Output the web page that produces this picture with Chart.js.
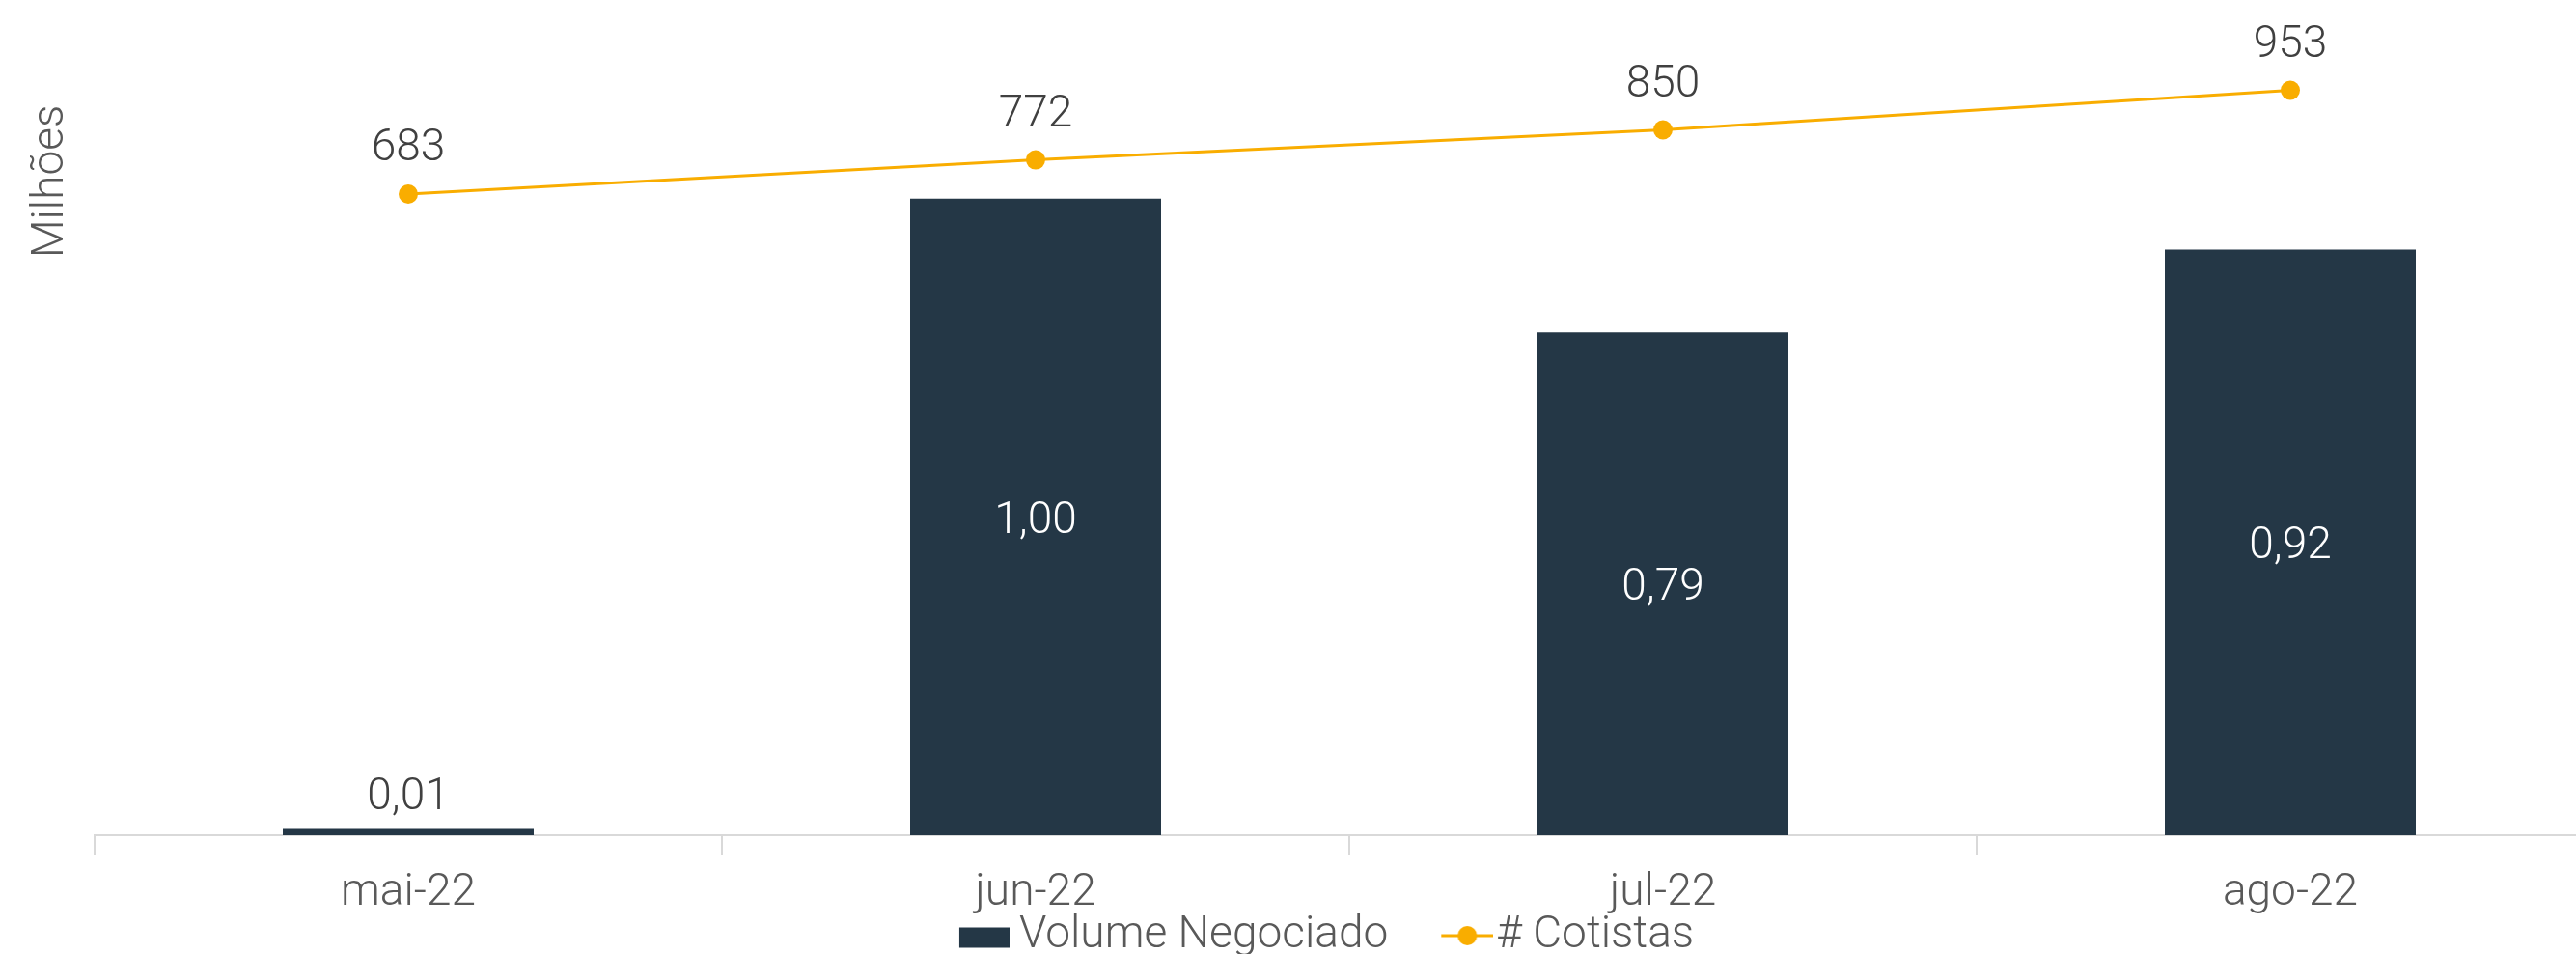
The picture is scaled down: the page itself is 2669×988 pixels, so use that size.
<!DOCTYPE html>
<html>
<head>
<meta charset="utf-8">
<script src="https://cdn.jsdelivr.net/npm/chart.js@4.4.0/dist/chart.umd.min.js"></script>
<style>
    html, body { margin: 0; padding: 0; background: #fff; overflow: hidden; }
    #wrap { position: relative; width: 2720px; height: 1002px; }
</style>
</head>
<body>
<div id="wrap"><canvas id="grafico"></canvas></div>
<script>
// dados do gráfico
var meses = ['mai-22', 'jun-22', 'jul-22', 'ago-22'];
var volume = [0.01, 1.00, 0.79, 0.92];      // Volume Negociado (milhões)
var cotistas = [683, 772, 850, 953];        // # Cotistas

var corBarra = '#243746';
var corLinha = '#F9AD00';
var fonte = 'Roboto';
var larguraIcone = 89;   // pointStyleWidth da legenda

// ícones da legenda (parte visível encostada à direita, perto do texto)
function iconeBarra() {
    var c = document.createElement('canvas');
    c.width = larguraIcone + 26; c.height = 43;
    var g = c.getContext('2d');
    g.fillStyle = corBarra;
    g.fillRect(c.width - 52, 13, 52, 21);
    return c;
}
function iconeLinha() {
    var c = document.createElement('canvas');
    c.width = larguraIcone + 40; c.height = 40;
    var g = c.getContext('2d');
    var x0 = c.width - 54;
    g.strokeStyle = corLinha;
    g.lineWidth = 3;
    g.beginPath(); g.moveTo(x0, 20); g.lineTo(x0 + 54, 20); g.stroke();
    g.fillStyle = corLinha;
    g.beginPath(); g.arc(x0 + 27, 20, 10, 0, Math.PI * 2); g.fill();
    return c;
}

// rótulos de dados + título do eixo
var rotulos = {
    id: 'rotulos',
    afterLayout: function (chart) {
        // desloca a legenda um pouco para a esquerda, como no original
        chart.legend.left -= 97;
    },
    afterDatasetsDraw: function (chart) {
        var ctx = chart.ctx;
        ctx.save();
        ctx.font = '300 46px ' + fonte;
        ctx.textAlign = 'center';
        ctx.textBaseline = 'middle';
        chart.getDatasetMeta(0).data.forEach(function (bar, i) {
            var txt = volume[i].toFixed(2).replace('.', ',');
            if (bar.base - bar.y > 80) {
                ctx.fillStyle = '#ffffff';
                ctx.fillText(txt, bar.x, (bar.y + bar.base) / 2 + 5);
            } else {
                ctx.fillStyle = '#404040';
                ctx.fillText(txt, bar.x, bar.y - 32);
            }
        });
        chart.getDatasetMeta(1).data.forEach(function (pt, i) {
            ctx.fillStyle = '#404040';
            ctx.fillText(String(cotistas[i]), pt.x, pt.y - 46);
        });
        // Milhões
        ctx.translate(53, 188);
        ctx.rotate(-Math.PI / 2);
        ctx.fillStyle = '#595959';
        ctx.font = '300 46px ' + fonte;
        ctx.fillText('Milhões', 0, 0);
        ctx.restore();
    }
};

var ctx = document.getElementById('grafico').getContext('2d');
var grafico = new Chart(ctx, {
    type: 'bar',
    data: {
        labels: meses,
        datasets: [{
            type: 'bar',
            label: 'Volume Negociado',
            data: volume,
            backgroundColor: corBarra,
            yAxisID: 'y',
            barPercentage: 0.4,
            categoryPercentage: 1,
            order: 2
        }, {
            type: 'line',
            label: '# Cotistas',
            data: cotistas,
            borderColor: corLinha,
            backgroundColor: corLinha,
            borderWidth: 3,
            pointRadius: 10,
            pointHoverRadius: 10,
            pointBorderWidth: 0,
            yAxisID: 'y2',
            clip: false,
            order: 1
        }]
    },
    options: {
        responsive: true,
        maintainAspectRatio: false,
        animation: false,
        events: [],
        layout: {
            padding: { left: 98, right: 22, top: 74, bottom: 0 }
        },
        scales: {
            x: {
                offset: true,
                afterFit: function (scale) {
                    scale.height = 81;
                },
                grid: {
                    offset: true,
                    drawOnChartArea: false,
                    tickLength: 20,
                    color: '#d9d9d9',
                    lineWidth: 2
                },
                border: { color: '#d9d9d9', width: 2 },
                ticks: {
                    color: '#595959',
                    font: { family: fonte, size: 46, weight: '300', lineHeight: 1 },
                    padding: 17.5
                }
            },
            y: {
                display: false,
                min: 0,
                max: 1.2
            },
            y2: {
                display: false,
                position: 'right',
                min: -985,
                max: 1002
            }
        },
        plugins: {
            tooltip: { enabled: false },
            legend: {
                position: 'bottom',
                labels: {
                    usePointStyle: true,
                    pointStyleWidth: larguraIcone,
                    boxHeight: 40,
                    padding: 0,
                    color: '#595959',
                    font: { family: fonte, size: 46, weight: '300' },
                    generateLabels: function () {
                        return [
                            { text: 'Volume Negociado', pointStyle: iconeBarra(), datasetIndex: 0, fontColor: '#595959' },
                            { text: '# Cotistas', pointStyle: iconeLinha(), datasetIndex: 1, fontColor: '#595959' }
                        ];
                    }
                }
            }
        }
    },
    plugins: [rotulos]
});
</script>
</body>
</html>
